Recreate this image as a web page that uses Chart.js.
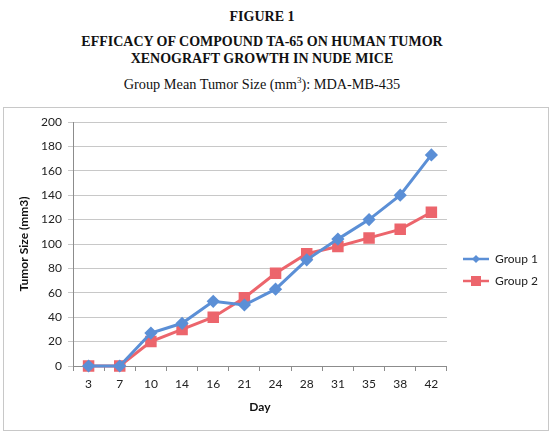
<!DOCTYPE html>
<html>
<head>
<meta charset="utf-8">
<script src="https://cdn.jsdelivr.net/npm/chart.js@4"></script>
<style>
  body { margin: 0; background: #fff; width: 550px; height: 432px; overflow: hidden; position: relative; }
  .t { position: absolute; left: 0; width: 524px; text-align: center; font-family: "Liberation Serif", "Times New Roman", serif; color: #111; white-space: nowrap; }
  #fig { top: 9px; font-size: 14px; font-weight: bold; }
  #head { top: 33px; font-size: 14px; font-weight: bold; line-height: 17px; }
  #sub { top: 75px; font-size: 14.3px; }
  #box { position: absolute; left: 3px; top: 107px; width: 544px; height: 322px; border: 1px solid #c8c8c8; }
</style>
</head>
<body>
<div class="t" id="fig">FIGURE 1</div>
<div class="t" id="head">EFFICACY OF COMPOUND TA-65 ON HUMAN TUMOR<br>XENOGRAFT GROWTH IN NUDE MICE</div>
<div class="t" id="sub">Group Mean Tumor Size (mm<sup style="font-size:9px">3</sup>): MDA-MB-435</div>
<div id="box"><canvas id="chart"></canvas></div>
<script>
const days = ["3", "7", "10", "14", "16", "21", "24", "28", "31", "35", "38", "42"];
const group1 = [0, 0, 27, 35, 53, 50, 63, 87, 104, 120, 140, 173];
const group2 = [0, 0, 20, 30, 40, 56, 76, 92, 98, 105, 112, 126];
const yTicks = [0, 20, 40, 60, 80, 100, 120, 140, 160, 180, 200];

const blue = "#5b8fd6";
const red = "#ec656c";

// legend swatch: short line with the marker in the middle (a bit of empty room on the left)
function swatch(color, shape) {
    const c = document.createElement("canvas");
    c.width = 32; c.height = 12;
    const ctx = c.getContext("2d");
    ctx.strokeStyle = color;
    ctx.lineWidth = 2.5;
    ctx.beginPath();
    ctx.moveTo(6, 6);
    ctx.lineTo(32, 6);
    ctx.stroke();
    ctx.fillStyle = color;
    if (shape === "diamond") {
        ctx.beginPath();
        ctx.moveTo(19, 2); ctx.lineTo(23, 6); ctx.lineTo(19, 10); ctx.lineTo(15, 6);
        ctx.closePath();
        ctx.fill();
    } else {
        ctx.fillRect(14, 1, 10, 10);
    }
    return c;
}
const swatches = [swatch(blue, "diamond"), swatch(red, "square")];

const tickFont = { family: "Lato, 'Open Sans', sans-serif", size: 12 };
const titleFont = { family: "Lato, 'Open Sans', sans-serif", size: 12, weight: "bold" };

new Chart(document.getElementById("chart"), {
    type: "line",
    data: {
        labels: days,
        datasets: [
            {
                label: "Group 1",
                data: group1,
                borderColor: blue,
                backgroundColor: blue,
                borderWidth: 3,
                pointStyle: "rectRot",
                pointRadius: 4.5,
                pointHoverRadius: 4.5,
                tension: 0,
                clip: false,
            },
            {
                label: "Group 2",
                data: group2,
                borderColor: red,
                backgroundColor: red,
                borderWidth: 3,
                pointStyle: "rect",
                pointRadius: 6,
                pointHoverRadius: 6,
                tension: 0,
                clip: false,
            },
        ],
    },
    options: {
        responsive: true,
        maintainAspectRatio: false,
        animation: false,
        layout: { padding: { top: 14, bottom: 12, left: 9, right: 0 } },
        scales: {
            x: {
                offset: true,
                grid: { offset: true, drawOnChartArea: false, drawTicks: true, tickLength: 5, color: "#8c8c8c" },
                border: { color: "#8c8c8c" },
                ticks: { color: "#222", font: tickFont, padding: 6 },
                title: { display: true, text: "Day", color: "#111", font: titleFont, padding: { top: 10 } },
                afterFit: (s) => { s.height = 52; },
            },
            y: {
                min: 0,
                max: 200,
                afterBuildTicks: (s) => { s.ticks = yTicks.map((v) => ({ value: v })); },
                grid: { color: "#c8c8c8", tickLength: 5, lineWidth: 1 },
                border: { color: "#8c8c8c" },
                ticks: { color: "#222", font: tickFont, padding: 6 },
                title: { display: true, text: "Tumor Size (mm3)", color: "#111", font: titleFont },
                afterFit: (s) => { s.width = 60; },
            },
        },
        plugins: {
            legend: {
                position: "right",
                labels: {
                    usePointStyle: true,
                    pointStyleWidth: 32,
                    color: "#222",
                    font: tickFont,
                    padding: 10,
                    generateLabels: (chart) => {
                        const items = Chart.defaults.plugins.legend.labels.generateLabels(chart);
                        items.forEach((it, i) => { it.pointStyle = swatches[i]; });
                        return items;
                    },
                },
            },
            tooltip: { enabled: false },
        },
    },
});
</script>
</body>
</html>
